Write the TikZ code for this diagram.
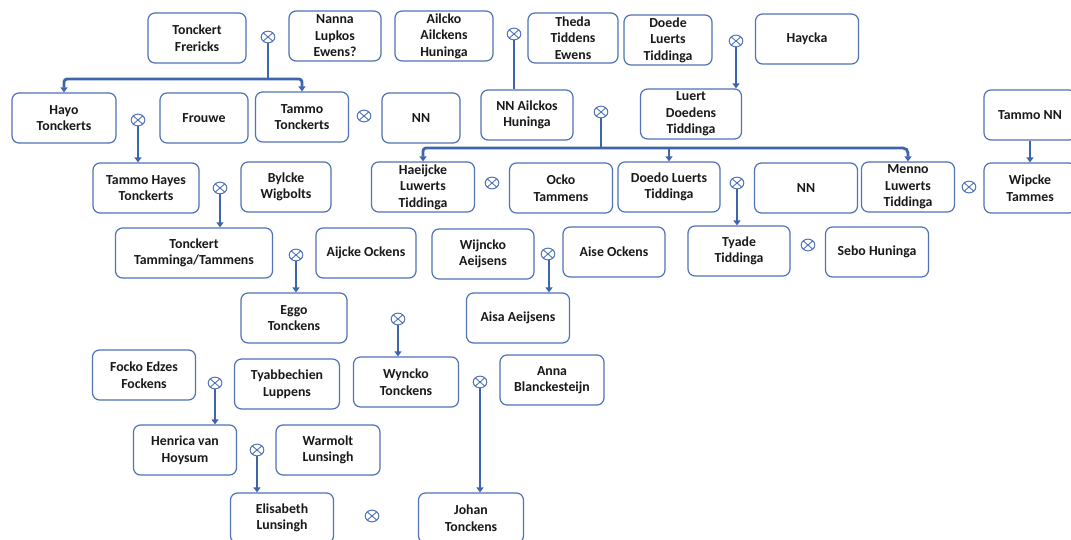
\documentclass[tikz,border=0pt]{standalone}
\usepackage{fontspec}
\setmainfont{Carlito}
\usetikzlibrary{arrows.meta}
\definecolor{boxblue}{RGB}{79,114,184}
\definecolor{linkblue}{RGB}{62,100,172}
\definecolor{txt}{RGB}{25,25,25}
\tikzset{
  person/.style={draw=boxblue, line width=1.2pt, rounded corners=7pt, fill=white,
    minimum width=#1, minimum height=50pt, align=center, text=txt,
    font=\fontsize{13.8}{16.5}\selectfont\bfseries, inner sep=1pt},
  person/.default=103pt,
  marr/.style={circle, draw=boxblue, line width=1pt, minimum width=13pt, inner sep=0pt,
    xscale=1.05, yscale=0.9,
    path picture={\draw[boxblue, line width=0.9pt]
      (path picture bounding box.south west) -- (path picture bounding box.north east)
      (path picture bounding box.north west) -- (path picture bounding box.south east);}},
  link/.style={draw=linkblue, line width=2.8pt},
  arr/.style={link, -{Triangle[length=5pt,width=7pt]}}
}
\begin{document}
\begin{tikzpicture}[x=1pt,y=-1pt]
\useasboundingbox (0,0) rectangle (1071,540);
% row 1
\node[person=98pt] (tf) at (197,38) {Tonckert\\Frericks};
\node[person=92pt] (nle) at (335,36) {Nanna\\Lupkos\\Ewens?};
\node[person=98pt] (aah) at (444,36) {Ailcko\\Ailckens\\Huninga};
\node[person=90pt] (tte) at (573,38) {Theda\\Tiddens\\Ewens};
\node[person=88pt] (dlt) at (668,40) {Doede\\Luerts\\Tiddinga};
\node[person=103pt] (hay) at (807,39) {Haycka};
\node[marr] (m1) at (268,37) {};
\node[marr] (m2) at (514,34) {};
\node[marr] (m3) at (736,41) {};
% row 2
\node[person=104pt] (hayo) at (64,118) {Hayo\\Tonckerts};
\node[person=88pt] (frouwe) at (204,118) {Frouwe};
\node[person=93pt] (tammo) at (302,117) {Tammo\\Tonckerts};
\node[person=78pt] (nn1) at (421,118) {NN};
\node[person=92pt] (nnah) at (527,115) {NN Ailckos\\Huninga};
\node[person=101pt] (ldt) at (691,114) {Luert\\Doedens\\Tiddinga};
\node[person=92pt] (tnn) at (1030,115) {Tammo NN};
\node[marr] (m4) at (138,120) {};
\node[marr] (m5) at (364,116) {};
\node[marr] (m6) at (601,112) {};
% row 3
\node[person=106pt] (tht) at (146,188) {Tammo Hayes\\Tonckerts};
\node[person=90pt] (bw) at (286,187) {Bylcke\\Wigbolts};
\node[person=103pt] (hlt) at (423,187) {Haeijcke\\Luwerts\\Tiddinga};
\node[person=103pt] (ot) at (561,188) {Ocko\\Tammens};
\node[person=102pt] (dolt) at (669,187) {Doedo Luerts\\Tiddinga};
\node[person=103pt] (nn2) at (806,188) {NN};
\node[person=93pt] (mlt) at (908,187) {Menno\\Luwerts\\Tiddinga};
\node[person=92pt] (wt) at (1030,188) {Wipcke\\Tammes};
\node[marr] (m7) at (220,188) {};
\node[marr] (m8) at (492,183) {};
\node[marr] (m9) at (737,183) {};
\node[marr] (m10) at (969,187) {};
% row 4
\node[person=157pt] (ttt) at (194,253) {Tonckert\\Tamminga/Tammens};
\node[person=100pt] (ao) at (366,253) {Aijcke Ockens};
\node[person=102pt] (wa) at (483,254) {Wijncko\\Aeijsens};
\node[person=102pt] (aso) at (614,252) {Aise Ockens};
\node[person=102pt] (tyt) at (739,251) {Tyade\\Tiddinga};
\node[person=103pt] (sh) at (877,252) {Sebo Huninga};
\node[marr] (m11) at (296,255) {};
\node[marr] (m12) at (548,254) {};
\node[marr] (m13) at (808,245) {};
% row 5
\node[person=106pt] (et) at (294,318) {Eggo\\Tonckens};
\node[person=103pt] (aa) at (518,318) {Aisa Aeijsens};
\node[marr] (m14) at (398,319) {};
% row 6
\node[person=103pt] (fef) at (144,375) {Focko Edzes\\Fockens};
\node[person=105pt] (tl) at (287,384) {Tyabbechien\\Luppens};
\node[person=105pt] (wyt) at (406,382) {Wyncko\\Tonckens};
\node[person=104pt] (ab) at (552,380) {Anna\\Blanckesteijn};
\node[marr] (m15) at (215,383) {};
\node[marr] (m16) at (480,382) {};
% row 7
\node[person=103pt] (hvh) at (185,450) {Henrica van\\Hoysum};
\node[person=104pt] (wl) at (328,450) {Warmolt\\Lunsingh};
\node[marr] (m17) at (257,450) {};
% row 8
\node[person=103pt] (el) at (282,518) {Elisabeth\\Lunsingh};
\node[person=105pt] (jt) at (471,518) {Johan\\Tonckens};
\node[marr] (m18) at (372,516) {};
% connectors
\coordinate (j1) at (268,79);
\draw[link] (m1.south) -- (j1);
\draw[arr, rounded corners=3pt] (j1) -| (hayo.north);
\draw[arr, rounded corners=3pt] (j1) -| (tammo.north);
\draw[link] (m2.south) -- (m2.south |- nnah.north);
\draw[arr] (m3.south) -- (m3.south |- ldt.north);
\coordinate (j2) at (601,148);
\draw[link] (m6.south) -- (j2);
\draw[arr, rounded corners=3pt] (j2) -| (hlt.north);
\draw[arr] (j2) -| (dolt.north);
\draw[arr, rounded corners=5pt] (j2) -| (mlt.north);
\draw[arr] (tnn.south) -- (wt.north);
\draw[arr] (m4.south) -- (m4.south |- tht.north);
\draw[arr] (m7.south) -- (m7.south |- ttt.north);
\draw[arr] (m9.south) -- (m9.south |- tyt.north);
\draw[arr] (m11.south) -- (m11.south |- et.north);
\draw[arr] ([xshift=1pt]m12.south) -- ([xshift=1pt]m12.south |- aa.north);
\draw[arr] (m14.south) -- (m14.south |- wyt.north);
\draw[arr] (m15.south) -- (m15.south |- hvh.north);
\draw[arr] (m16.south) -- (m16.south |- jt.north);
\draw[arr] (m17.south) -- (m17.south |- el.north);
\end{tikzpicture}
\end{document}
